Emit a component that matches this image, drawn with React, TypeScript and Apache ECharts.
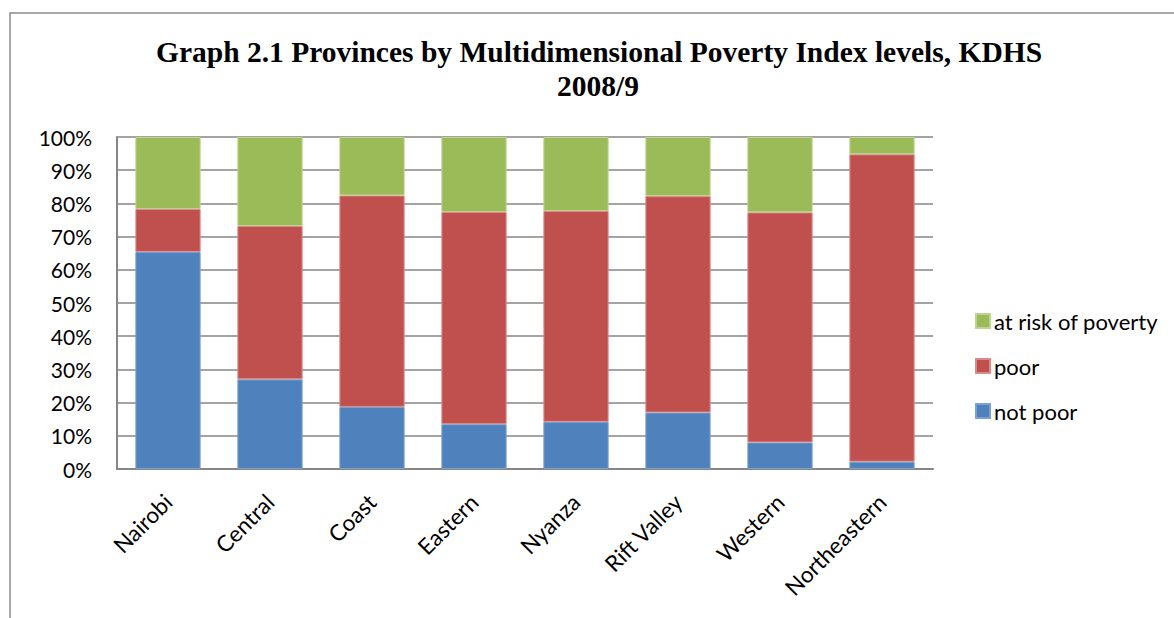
import React, { useEffect, useRef } from "react";
import * as echarts from "echarts";

const provinces = ["Nairobi", "Central", "Coast", "Eastern", "Nyanza", "Rift Valley", "Western", "Northeastern"];
const notPoor = [65.4, 27.0, 18.7, 13.5, 14.2, 17.0, 8.0, 2.2];
const poor = [12.9, 46.2, 63.7, 63.9, 63.5, 65.2, 69.3, 92.6];
const atRisk = [21.7, 26.8, 17.6, 22.6, 22.3, 17.8, 22.7, 5.2];
const titleLines = ["Graph 2.1 Provinces by Multidimensional Poverty Index levels, KDHS", "2008/9"];

export default function App() {
  const ref = useRef<HTMLDivElement>(null);
  useEffect(() => {
    if (!ref.current) return;
    const chart = echarts.init(ref.current, null, { renderer: "svg" });
    const font = "Lato, 'Noto Sans', sans-serif";
    const titleFont = "bold 29.5px 'Liberation Serif', 'Times New Roman', serif";
    chart.setOption({
      animation: false,
      backgroundColor: "#ffffff",
      graphic: [
        { type: "rect", shape: { x: 10, y: 13, width: 1300, height: 800 }, style: { fill: "none", stroke: "#8c8c8c", lineWidth: 1.5 }, silent: true, z: -1 },
        { type: "text", x: 599, y: 52, style: { text: titleLines[0], font: titleFont, fill: "#000", textAlign: "center", textVerticalAlign: "middle" } },
        { type: "text", x: 598, y: 86, style: { text: titleLines[1], font: titleFont, fill: "#000", textAlign: "center", textVerticalAlign: "middle" } },
      ],
      legend: {
        orient: "vertical",
        left: 975,
        top: 310,
        padding: 0,
        itemWidth: 14,
        itemHeight: 14,
        itemGap: 23,
        icon: "rect",
        data: ["at risk of poverty", "poor", "not poor"],
        textStyle: { fontFamily: font, fontSize: 22, lineHeight: 22, color: "#000", padding: [0, 0, 0, -1] },
      },
      grid: { left: 117, top: 137, right: 241, bottom: 149, containLabel: false },
      xAxis: {
        type: "category",
        data: provinces,
        axisLine: { show: true, lineStyle: { color: "#868686", width: 2 } },
        axisTick: { show: false },
        axisLabel: { rotate: 45, fontFamily: font, fontSize: 22.5, color: "#000", margin: 29, interval: 0 },
      },
      yAxis: {
        type: "value",
        min: 0,
        max: 100,
        interval: 10,
        axisLine: { show: true, lineStyle: { color: "#868686", width: 2 } },
        axisTick: { show: false },
        axisLabel: { formatter: "{value}%", fontFamily: font, fontSize: 21, color: "#000", margin: 25 },
        splitLine: { show: true, lineStyle: { color: "#868686", width: 1.5 } },
      },
      series: [
        { name: "not poor", type: "bar", stack: "s", data: notPoor, barWidth: "64%", itemStyle: { color: "#4F81BD", borderColor: "#7BA0D2", borderWidth: 1 } },
        { name: "poor", type: "bar", stack: "s", data: poor, barWidth: "64%", itemStyle: { color: "#C0504D", borderColor: "#D98B89", borderWidth: 1 } },
        { name: "at risk of poverty", type: "bar", stack: "s", data: atRisk, barWidth: "64%", itemStyle: { color: "#9BBB59", borderColor: "#BCD48E", borderWidth: 1 } },
      ],
    });
    return () => chart.dispose();
  }, []);
  return <div ref={ref} style={{ position: "absolute", left: 0, top: 0, width: 1174, height: 618 }} />;
}
